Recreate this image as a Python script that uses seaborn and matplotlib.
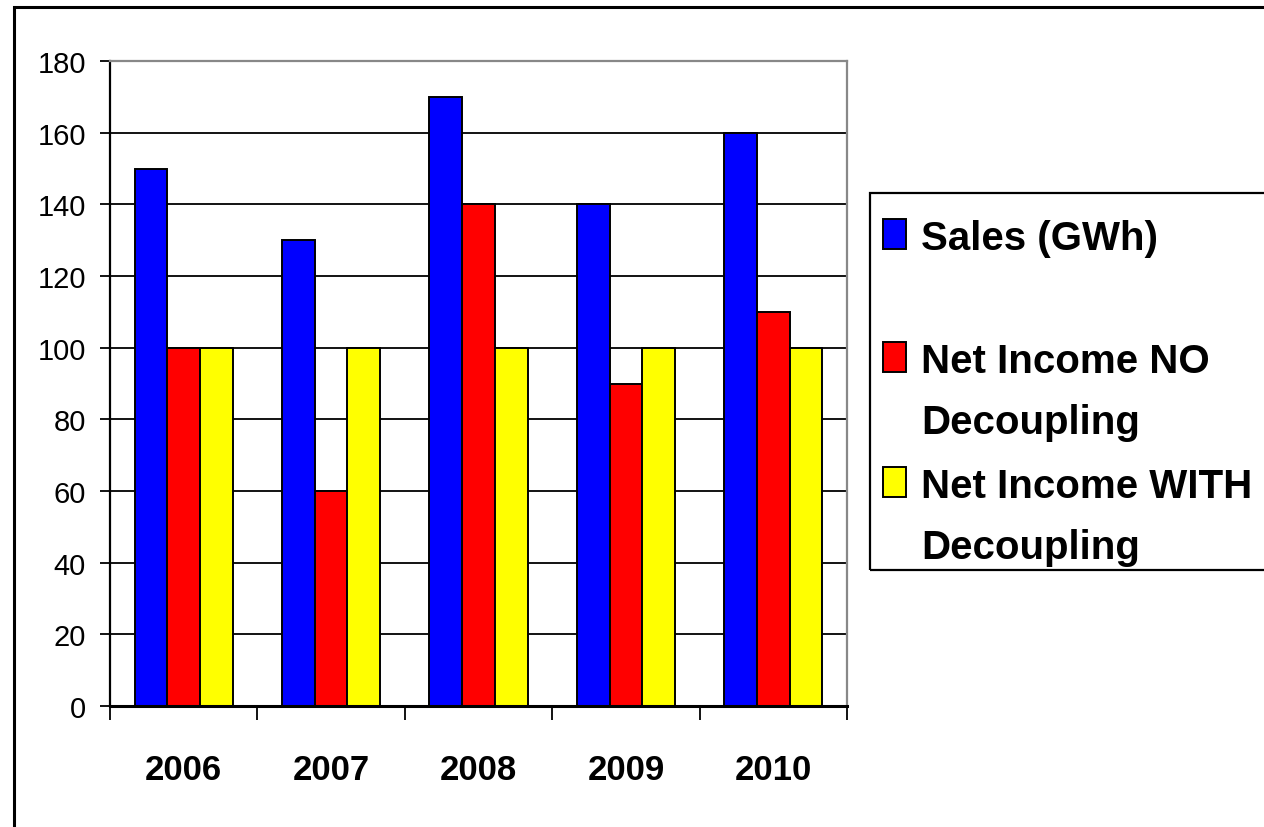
import matplotlib
matplotlib.use("Agg")
import matplotlib.pyplot as plt
from matplotlib.patches import Rectangle
import seaborn as sns
import pandas as pd

years = ["2006", "2007", "2008", "2009", "2010"]
series_names = ["Sales (GWh)", "Net Income NO\nDecoupling", "Net Income WITH\nDecoupling"]
sales = [150, 130, 170, 140, 160]
net_no = [100, 60, 140, 90, 110]
net_with = [100, 100, 100, 100, 100]
colors = ["#0000FF", "#FF0000", "#FFFF00"]
y_ticks = [0, 20, 40, 60, 80, 100, 120, 140, 160, 180]

rows = []
for name, vals in zip(series_names, [sales, net_no, net_with]):
    for yr, v in zip(years, vals):
        rows.append({"Year": yr, "Value": v, "Series": name})
df = pd.DataFrame(rows)

sns.set_theme(style="white")
plt.rcParams["font.family"] = ["Liberation Sans", "DejaVu Sans"]
plt.rcParams["text.color"] = "black"
plt.rcParams["xtick.color"] = "black"
plt.rcParams["ytick.color"] = "black"
plt.rcParams["axes.labelcolor"] = "black"

W, H = 1264, 828
fig = plt.figure(figsize=(W / 100, H / 100), dpi=100)
ax = fig.add_axes([110 / W, 1 - 707 / H, (847 - 110) / W, (707 - 62) / H])

sns.barplot(data=df, x="Year", y="Value", hue="Series", hue_order=series_names,
            order=years, palette=colors, saturation=1, width=0.667,
            edgecolor="black", linewidth=1.4, legend=False, ax=ax, zorder=3)

ax.set_xlim(-0.5, len(years) - 0.5)
ax.set_ylim(0, 180)
ax.set_yticks(y_ticks)
ax.set_yticklabels([str(t) for t in y_ticks], fontsize=21, color="black")
ax.set_xlabel("")
ax.set_ylabel("")

# grid
ax.set_axisbelow(True)
ax.yaxis.grid(True, color="black", linewidth=1.3)
ax.xaxis.grid(False)

# spines
for s in ["top", "right"]:
    ax.spines[s].set_color("#888888")
    ax.spines[s].set_linewidth(1.6)
ax.spines["left"].set_color("black")
ax.spines["left"].set_linewidth(1.6)
ax.spines["bottom"].set_color("black")
ax.spines["bottom"].set_linewidth(2.2)
for s in ax.spines.values():
    s.set_zorder(4)

ax.tick_params(axis="y", which="major", direction="out", length=7.2, width=1.3,
               color="black", pad=10, left=True, labelcolor="black")
# x: labels at categories, boundary tick marks as minor ticks
ax.set_xticks(range(len(years)))
ax.set_xticklabels(years, fontsize=25, fontweight="bold", color="black")
ax.set_xticks([i - 0.5 for i in range(len(years) + 1)], minor=True)
ax.tick_params(axis="x", which="major", length=0, pad=34, labelcolor="black")
ax.tick_params(axis="x", which="minor", direction="out", length=10, width=1.3,
               color="black", bottom=True)

# figure border (extends beyond right/bottom edges)
fig.add_artist(Rectangle((14 / W, -0.5), 2, (1 - 8 / H) + 0.5,
                         transform=fig.transFigure, fill=False,
                         edgecolor="black", linewidth=2.2))

# legend box
fig.add_artist(Rectangle((870 / W, 1 - 571 / H), 1.0, (571 - 194) / H,
                         transform=fig.transFigure, fill=False,
                         edgecolor="black", linewidth=1.6))

legend_lines = [
    (colors[0], ["Sales (GWh)"], 250),
    (colors[1], ["Net Income NO", "Decoupling"], 373),
    (colors[2], ["Net Income WITH", "Decoupling"], 498),
]
line_gap = 61
for col, lines, base in legend_lines:
    fig.add_artist(Rectangle((883 / W, 1 - base / H), 23 / W, 30 / H,
                             transform=fig.transFigure, facecolor=col,
                             edgecolor="black", linewidth=1.4))
    for k, txt in enumerate(lines):
        fig.text(921 / W, 1 - (base + k * line_gap) / H, txt, fontsize=29,
                 fontweight="bold", ha="left", va="baseline", color="black")

fig.savefig("out.png", dpi=100, facecolor="white")
